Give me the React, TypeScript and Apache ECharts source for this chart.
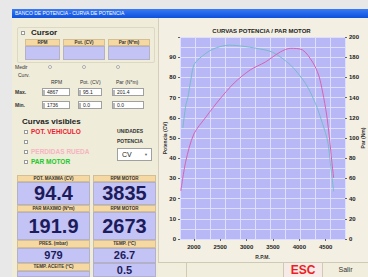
import React, { useEffect, useRef } from "react";
import * as echarts from "echarts";

const FONT = "'Liberation Sans', Arial, sans-serif";

// Curve data
const powerRpm = [1752, 1847, 2000, 2229, 2477, 2763, 3068, 3355, 3641, 3835, 4060, 4251, 4366, 4442, 4519, 4576, 4614, 4652];
const powerCv = [23.8, 38.6, 52.0, 60.4, 68.8, 77.2, 83.7, 87.6, 92.6, 94.4, 93.6, 87.6, 81.2, 72.8, 61.4, 49.0, 39.1, 30.2];
const torqueRpm = [1790, 1847, 1885, 1943, 2000, 2114, 2363, 2673, 2935, 3164, 3488, 3832, 4117, 4308, 4442, 4538, 4590, 4652];
const torqueNm = [110.0, 132.7, 140.0, 158.0, 172.3, 179.2, 188.1, 191.9, 190.8, 189.0, 185.0, 172.3, 154.0, 134.0, 114.0, 97.0, 75.0, 47.0];

const rpmLabels = [2000, 2500, 3000, 3500, 4000, 4500];
const rpmMin = 1736;
const rpmMax = 4867;
const powerMax = 100;
const torqueMax = 200;

// Panel texts
const cursorHeaders = ["RPM", "Pot. (CV)", "Par (N*m)"];
const maxValues = ["4867", "95.1", "201.4"];
const minValues = ["1736", "0.0", "0.0"];
const stats = {
  potMax: "94.4",
  rpmPot: "3835",
  parMax: "191.9",
  rpmPar: "2673",
  pres: "979",
  temp: "26.7",
  extra: "0.5",
};

const LAV = "#c3c3f5";
const TAN = "#f6d9a2";
const CREAM = "#efecd9";

function Abs(props: { x: number; y: number; w?: number; h?: number; style?: React.CSSProperties; children?: React.ReactNode }) {
  const { x, y, w, h, style, children } = props;
  return (
    <div
      style={{
        position: "absolute",
        left: x,
        top: y,
        width: w,
        height: h,
        boxSizing: "border-box",
        whiteSpace: "nowrap",
        ...style,
      }}
    >
      {children}
    </div>
  );
}

function Cell(props: { x: number; y: number; w: number; h: number; bg: string; text?: string; size: number; color?: string; bold?: boolean }) {
  const { x, y, w, h, bg, text, size, color, bold } = props;
  return (
    <Abs
      x={x}
      y={y}
      w={w}
      h={h}
      style={{
        background: bg,
        fontSize: size,
        lineHeight: h - 2 + "px",
        textAlign: "center",
        color: color || "#333",
        fontWeight: bold ? "bold" : "normal",
        border: "1px solid rgba(150,140,120,0.35)",
        overflow: "hidden",
      }}
    >
      {text}
    </Abs>
  );
}

function Check(props: { x: number; y: number }) {
  return <Abs x={props.x} y={props.y} w={4} h={4} style={{ background: "#fff", border: "1px solid #9a9a9a" }} />;
}

function Spin(props: { x: number; y: number; w: number; text: string }) {
  return (
    <Abs x={props.x} y={props.y} w={props.w} h={8} style={{ background: "#fff", border: "1px solid #a0a0a0", fontSize: 5, lineHeight: "6px", color: "#222" }}>
      <span style={{ display: "inline-block", width: 2, height: 5, background: "#b8b8b8", marginRight: 2, verticalAlign: "middle" }} />
      {props.text}
    </Abs>
  );
}

function Txt(props: { x: number; cy: number; size: number; color?: string; bold?: boolean; children: React.ReactNode }) {
  const lh = Math.ceil(props.size * 1.2);
  return (
    <Abs
      x={props.x}
      y={props.cy - lh / 2}
      h={lh}
      style={{ fontSize: props.size, lineHeight: lh + "px", color: props.color || "#333", fontWeight: props.bold ? "bold" : "normal" }}
    >
      {props.children}
    </Abs>
  );
}

function Chart() {
  const ref = useRef<HTMLDivElement>(null);
  useEffect(() => {
    const chart = echarts.init(ref.current!, null, { renderer: "svg" });
    const lbl = { fontSize: 6, fontWeight: "bold" as const, color: "#222", fontFamily: FONT };
    const nameStyle = { fontSize: 5, fontWeight: "bold" as const, color: "#333", fontFamily: FONT };
    chart.setOption({
      animation: false,
      title: {
        text: "CURVAS POTENCIA / PAR MOTOR",
        left: "center",
        top: 5,
        textStyle: { fontSize: 6, fontWeight: "bold", color: "#222", fontFamily: FONT },
      },
      grid: {
        left: 25,
        top: 19,
        right: 23,
        bottom: 23,
        show: true,
        backgroundColor: "#b8b8f7",
        borderWidth: 0,
        containLabel: false,
        outerBoundsMode: "none",
      },
      xAxis: [
        {
          type: "value",
          min: rpmMin,
          max: rpmMax,
          name: "R.P.M.",
          nameLocation: "middle",
          nameGap: 15,
          nameMoveOverlap: false,
          nameTextStyle: nameStyle,
          axisLine: { show: false },
          axisTick: { show: true, customValues: rpmLabels, length: 2, lineStyle: { color: "#666" } },
          axisLabel: { ...lbl, customValues: rpmLabels, margin: 5, formatter: (v: number) => String(v) },
          splitLine: { show: false },
        },
        {
          type: "value",
          min: 0,
          max: 11,
          interval: 1,
          position: "top",
          axisLine: { show: false },
          axisTick: { show: false },
          axisLabel: { show: false },
          splitLine: { show: true, lineStyle: { color: "#dedeff", width: 1 } },
        },
      ],
      yAxis: [
        {
          type: "value",
          min: 0,
          max: powerMax,
          interval: 10,
          position: "left",
          name: "Potencia (CV)",
          nameLocation: "middle",
          nameGap: 13,
          nameRotate: 90,
          nameMoveOverlap: false,
          nameTextStyle: nameStyle,
          axisLine: { show: false },
          axisTick: { show: true, length: 2, lineStyle: { color: "#666" } },
          axisLabel: { ...lbl, margin: 4, formatter: (v: number) => (v < powerMax ? String(v) : "") },
          splitLine: { show: false },
        },
        {
          type: "value",
          min: 0,
          max: torqueMax,
          interval: 20,
          position: "right",
          name: "Par (Nm)",
          nameLocation: "middle",
          nameGap: 15,
          nameRotate: 90,
          nameMoveOverlap: false,
          nameTextStyle: nameStyle,
          axisLine: { show: false },
          axisTick: { show: true, length: 2, lineStyle: { color: "#666" } },
          axisLabel: { ...lbl, margin: 4 },
          splitLine: { show: false },
        },
        {
          type: "value",
          min: 0,
          max: 20,
          interval: 1,
          position: "left",
          offset: 0,
          axisLine: { show: false },
          axisTick: { show: false },
          axisLabel: { show: false },
          splitLine: { show: true, lineStyle: { color: "#dedeff", width: 1 } },
        },
      ],
      series: [
        {
          type: "line",
          name: "POT. VEHICULO",
          xAxisIndex: 0,
          yAxisIndex: 0,
          data: powerRpm.map((r, i) => [r, powerCv[i]]),
          showSymbol: false,
          smooth: 0.3,
          lineStyle: { color: "#d862b0", width: 1 },
          z: 5,
        },
        {
          type: "line",
          name: "PAR MOTOR",
          xAxisIndex: 0,
          yAxisIndex: 1,
          data: torqueRpm.map((r, i) => [r, torqueNm[i]]),
          showSymbol: false,
          smooth: 0.3,
          lineStyle: { color: "#78bcc8", width: 1 },
          z: 4,
        },
      ],
    });
    return () => chart.dispose();
  }, []);
  return <div ref={ref} style={{ position: "absolute", left: 155, top: 18, width: 213, height: 244 }} />;
}

export default function App() {
  const cols = [
    [25, 35],
    [63, 42],
    [108, 42],
  ];
  return (
    <div
      style={{
        position: "fixed",
        left: 0,
        top: 0,
        width: 368,
        height: 277,
        background: "#e8e8e8",
        overflow: "hidden",
        fontFamily: FONT,
      }}
    >
      {/* window body */}
      <Abs x={12} y={9} w={356} h={268} style={{ background: CREAM }} />
      {/* title bar */}
      <Abs
        x={12}
        y={9}
        w={356}
        h={9}
        style={{ background: "linear-gradient(#3a7af4, #0c50dc)", color: "#fff", fontSize: 5, lineHeight: "9px", paddingLeft: 3 }}
      >
        BANCO DE POTENCIA - CURVA DE POTENCIA
      </Abs>

      {/* Cursor group */}
      <Abs x={17} y={27} w={138} h={36} style={{ border: "1px solid #ddd8c4", borderRadius: 2 }} />
      <Check x={21} y={31} />
      <Txt x={31} cy={33} size={8} bold color="#222">Cursor</Txt>
      {cols.map((c, i) => (
        <Cell key={"h" + i} x={c[0]} y={39} w={c[1]} h={7} bg={TAN} text={cursorHeaders[i]} size={4.5} bold />
      ))}
      {cols.map((c, i) => (
        <Cell key={"v" + i} x={c[0]} y={46} w={c[1]} h={14} bg={LAV} size={5} />
      ))}

      {/* Medir curvas */}
      <Txt x={15} cy={67} size={5}>Medir</Txt>
      <Txt x={18} cy={75} size={5}>Curv.</Txt>
      {[48, 82, 116].map((x) => (
        <Abs key={x} x={x} y={65} w={4} h={4} style={{ borderRadius: 2, background: "#fff", border: "1px solid #aaa" }} />
      ))}
      <Txt x={51} cy={82} size={5}>RPM</Txt>
      <Txt x={80} cy={82} size={5}>Pot. (CV)</Txt>
      <Txt x={116} cy={82} size={5}>Par (N*m)</Txt>
      <Txt x={15} cy={92} size={5} bold>Max.</Txt>
      <Spin x={42} y={88} w={28} text={maxValues[0]} />
      <Spin x={78} y={88} w={24} text={maxValues[1]} />
      <Spin x={112} y={88} w={32} text={maxValues[2]} />
      <Txt x={15} cy={105} size={5} bold>Min.</Txt>
      <Spin x={42} y={101} w={28} text={minValues[0]} />
      <Spin x={78} y={101} w={24} text={minValues[1]} />
      <Spin x={112} y={101} w={32} text={minValues[2]} />

      {/* Curvas visibles */}
      <Txt x={22} cy={122} size={8} bold color="#222">Curvas visibles</Txt>
      <Check x={24} y={130} />
      <Check x={24} y={140} />
      <Check x={24} y={150} />
      <Check x={24} y={160} />
      <Txt x={31} cy={132} size={6.5} bold color="#ee2030">POT. VEHICULO</Txt>
      <Txt x={31} cy={152} size={6.5} bold color="#f6b4c0">PERDIDAS RUEDA</Txt>
      <Txt x={31} cy={162} size={6.5} bold color="#20c828">PAR MOTOR</Txt>
      <Txt x={117} cy={131} size={5} bold>UNIDADES</Txt>
      <Txt x={117} cy={141} size={5} bold>POTENCIA</Txt>
      <Abs x={117} y={148} w={35} h={13} style={{ background: "#fff", border: "1px solid #a0a0a0", fontSize: 7, lineHeight: "11px", paddingLeft: 4, color: "#222" }}>
        CV
        <span style={{ position: "absolute", right: 3, top: 0, fontSize: 4, color: "#666" }}>▼</span>
      </Abs>

      {/* stats */}
      <Cell x={17} y={175} w={73} h={7} bg={TAN} text="POT. MAXIMA (CV)" size={4.5} bold />
      <Cell x={93} y={175} w={63} h={7} bg={TAN} text="RPM MOTOR" size={4.5} bold />
      <Cell x={17} y={182} w={73} h={23} bg={LAV} text={stats.potMax} size={20} color="#1c1c5c" bold />
      <Cell x={93} y={182} w={63} h={23} bg={LAV} text={stats.rpmPot} size={20} color="#1c1c5c" bold />
      <Cell x={17} y={205} w={73} h={7} bg={TAN} text="PAR MAXIMO (N*m)" size={4.5} bold />
      <Cell x={93} y={205} w={63} h={7} bg={TAN} text="RPM MOTOR" size={4.5} bold />
      <Cell x={17} y={212} w={73} h={28} bg={LAV} text={stats.parMax} size={20} color="#1c1c5c" bold />
      <Cell x={93} y={212} w={63} h={28} bg={LAV} text={stats.rpmPar} size={20} color="#1c1c5c" bold />
      <Cell x={17} y={240} w={73} h={8} bg={TAN} text="PRES. (mbar)" size={4.5} bold />
      <Cell x={93} y={240} w={63} h={8} bg={TAN} text="TEMP. (ºC)" size={4.5} bold />
      <Cell x={17} y={248} w={73} h={15} bg={LAV} text={stats.pres} size={11} color="#1c1c5c" bold />
      <Cell x={93} y={248} w={63} h={15} bg={LAV} text={stats.temp} size={11} color="#1c1c5c" bold />
      <Cell x={17} y={263} w={73} h={8} bg={TAN} text="TEMP. ACEITE (ºC)" size={4.5} bold />
      <Cell x={17} y={271} w={73} h={6} bg={LAV} size={5} />
      <Cell x={93} y={263} w={63} h={14} bg={LAV} text={stats.extra} size={11} color="#1c1c5c" bold />

      {/* chart panel */}
      <Abs x={158} y={18} w={210} h={244} style={{ background: "#f3f0e3", borderLeft: "1px solid #d4cfbb" }} />
      <Chart />

      {/* bottom bar */}
      <Abs x={158} y={262} w={210} h={15} style={{ background: "#f1eede", borderTop: "1px solid #cfcab6" }} />
      <Abs x={186} y={263} w={1} h={14} style={{ background: "#cfcab6" }} />
      <Abs x={283} y={263} w={1} h={14} style={{ background: "#cfcab6" }} />
      <Abs x={284} y={263} w={38} h={14} style={{ background: "#f6ebe6", color: "#ee1c24", fontWeight: "bold", fontSize: 12, lineHeight: "14px", textAlign: "center" }}>
        ESC
      </Abs>
      <Abs x={322} y={263} w={1} h={14} style={{ background: "#cfcab6" }} />
      <Abs x={323} y={263} w={45} h={14} style={{ color: "#333", fontSize: 7, lineHeight: "14px", textAlign: "center" }}>
        Salir
      </Abs>
    </div>
  );
}
